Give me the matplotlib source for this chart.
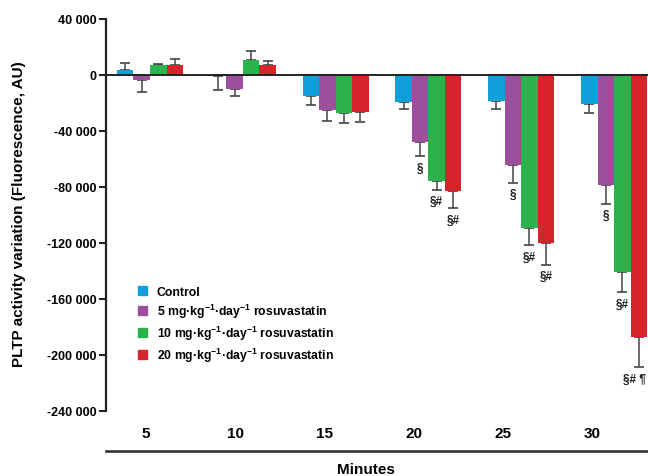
import numpy as np
import matplotlib
matplotlib.use('Agg')
import matplotlib.pyplot as plt
from matplotlib.patches import Patch
from matplotlib.lines import Line2D

plt.rcParams['font.family'] = ['Liberation Sans', 'DejaVu Sans']
plt.rcParams['font.weight'] = 'bold'
plt.rcParams['mathtext.fontset'] = 'custom'
plt.rcParams['mathtext.rm'] = 'Liberation Sans:bold'
plt.rcParams['mathtext.bf'] = 'Liberation Sans:bold'

# 数据
minutes = ['5', '10', '15', '20', '25', '30']
series_names = ['Control',
                r'5 mg·kg$^{\mathbf{-1}}$·day$^{\mathbf{-1}}$ rosuvastatin',
                r'10 mg·kg$^{\mathbf{-1}}$·day$^{\mathbf{-1}}$ rosuvastatin',
                r'20 mg·kg$^{\mathbf{-1}}$·day$^{\mathbf{-1}}$ rosuvastatin']
colors = ['#0fa0dc', '#9c4f9d', '#2cb24c', '#d6242b']

control = [3700, -1000, -15300, -19600, -18900, -21000]
control_err = [4900, 10000, 6200, 4700, 5200, 6000]
r5 = [-3900, -9800, -25300, -48200, -64200, -78500]
r5_err = [8300, 5500, 7900, 10000, 12900, 13400]
r10 = [6900, 10900, -27500, -75600, -109100, -140500]
r10_err = [700, 6000, 7100, 6500, 12600, 14800]
r20 = [6900, 7400, -26500, -83300, -119800, -187100]
r20_err = [4300, 2600, 7400, 11900, 15700, 21600]

control_sig = ['', '', '', '', '', '']
r5_sig = ['', '', '', '§', '§', '§']
r10_sig = ['', '', '', '§#', '§#', '§#']
r20_sig = ['', '', '', '§#', '§#', '§# ¶']

values = [control, r5, r10, r20]
errors = [control_err, r5_err, r10_err, r20_err]
sigs = [control_sig, r5_sig, r10_sig, r20_sig]

fig = plt.figure(figsize=(6.48, 4.77), dpi=100)
ax = fig.add_axes([106 / 648, 65.3 / 477, 542 / 648, 391.7 / 477])

x = np.arange(len(minutes))
w = 0.178
for k in range(4):
    v = np.array(values[k])
    e = np.array(errors[k])
    pos = x + (k - 1.5) * w
    # 单侧误差线
    lower = np.where(v < 0, e, 0)
    upper = np.where(v >= 0, e, 0)
    ax.bar(pos, v, width=w, color=colors[k], label=series_names[k], zorder=2)
    ax.errorbar(pos, v, yerr=[lower, upper], fmt='none', ecolor='#444444',
                elinewidth=1.1, capsize=3.8, capthick=1.2, zorder=1)
    for i in range(len(minutes)):
        if sigs[k][i]:
            # 最右边的标注往左挪一点，免得出界
            dx = -3.5 if (k == 3 and i == len(minutes) - 1) else 0
            ax.annotate(sigs[k][i], (pos[i], v[i] - e[i]), xytext=(dx, -4),
                        textcoords='offset points', ha='center', va='top',
                        fontsize=8.5, fontweight='bold', color='#222222')

ax.axhline(0, color='#222222', lw=1.4, zorder=3)
ax.set_xlim(-0.474, 5.366)
ax.set_ylim(-240000, 40000)
ax.set_yticks(np.arange(-240000, 40001, 40000))
ax.set_yticklabels([f'{t:,}'.replace(',', ' ') for t in np.arange(-240000, 40001, 40000)])
ax.set_xticks(x * 0.961 - 0.043)
ax.set_xticklabels(minutes, fontsize=11, fontweight='bold')
ax.tick_params(axis='x', length=0, pad=11)
ax.tick_params(axis='y', length=5, width=1.5, pad=2, labelsize=9, color='#222222')
for s in ['top', 'right', 'bottom']:
    ax.spines[s].set_visible(False)
ax.spines['left'].set_linewidth(1.6)
ax.spines['left'].set_color('#222222')

fig.text(0.029, 1 - 214 / 477, 'PLTP activity variation (Fluorescence, AU)',
         rotation=90, ha='center', va='center', fontsize=11, fontweight='bold')
fig.add_artist(Line2D([106 / 648, 1], [1 - 452 / 477] * 2, transform=fig.transFigure,
                      color='#333333', lw=1.9))
fig.text(366 / 648, 1 - 470 / 477, 'Minutes', ha='center', va='center',
         fontsize=11, fontweight='bold')

handles = [Patch(color=c) for c in colors]
ax.legend(handles, series_names, loc='upper left', bbox_to_anchor=(138 / 648, 1 - 287 / 477),
          bbox_transform=fig.transFigure, frameon=False, fontsize=8.8,
          handlelength=0.75, handleheight=0.75, handletextpad=0.8, labelspacing=0.3,
          borderaxespad=0, borderpad=0)

fig.savefig('out.png', dpi=100)
